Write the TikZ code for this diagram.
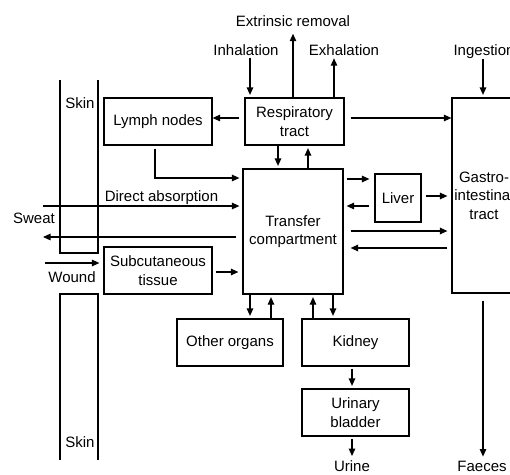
\documentclass[tikz,border=0pt]{standalone}
\usepackage{fontspec}
\setmainfont{Liberation Sans}
\usetikzlibrary{arrows.meta}
\begin{document}
\begin{tikzpicture}[x=1pt,y=-1pt,line width=1.2pt,
        box/.style={draw,align=center,inner sep=0pt,font=\fontsize{15}{18.5}\selectfont},
        lbl/.style={inner sep=0pt,anchor=base,font=\fontsize{15}{18.5}\selectfont},
        arr/.style={-{Triangle[length=7.5pt,width=6.5pt]},shorten >=2.5pt}]
        \useasboundingbox (0,0) rectangle (510,474);
        \clip (0,0) rectangle (510,474);

        \node[box,minimum width=108,minimum height=47] (lymph) at (158,121.5) {Lymph nodes};
        \node[box,minimum width=99,minimum height=47] (resp) at (294.5,121.5) {Respiratory\\tract};
        \node[box,minimum width=64,minimum height=195] (gi) at (484,195.5) {Gastro-\\intestinal\\tract};
        \node[box,minimum width=100,minimum height=125] (tc) at (293,231.5) {Transfer\\compartment};
        \node[box,minimum width=46,minimum height=48] (liver) at (398,198) {Liver};
        \node[box,minimum width=108,minimum height=47] (sub) at (158,270.5) {Subcutaneous\\tissue};
        \node[box,minimum width=106,minimum height=47] (other) at (230,342.5) {Other organs};
        \node[box,minimum width=107,minimum height=47] (kidney) at (355.5,342.5) {Kidney};
        \node[box,minimum width=107,minimum height=47] (bladder) at (355.5,412.5) {Urinary\\bladder};

        \node[lbl] (extr) at (293,26) {Extrinsic removal};
        \node[lbl] (inh) at (246,55) {Inhalation};
        \node[lbl] (exh) at (344,55) {Exhalation};
        \node[lbl] (ing) at (484,55) {Ingestion};
        \node[lbl] (skina) at (80,108) {Skin};
        \node[lbl] (skinb) at (80,447) {Skin};
        \node[lbl] (dir) at (161.5,201) {Direct absorption};
        \node[lbl] (sweat) at (34,223) {Sweat};
        \node[lbl] (wound) at (72,282) {Wound};
        \node[lbl] (urine) at (352,471.5) {Urine};
        \node[lbl] (faeces) at (482,471.5) {Faeces};

        % skin
        \draw (60,80) -- (60,253) -- (98,253) -- (98,80);
        \draw (60,460) -- (60,294) -- (98,294) -- (98,460);

        \coordinate (xinh) at (250,0);
        \coordinate (xexh) at (334,0);
        \coordinate (xing) at (483,0);
        \coordinate (xrd) at (278,0);
        \coordinate (xru) at (308,0);
        \coordinate (xln) at (155,0);
        \coordinate (xo1) at (250,0);
        \coordinate (xo2) at (271,0);
        \coordinate (xk1) at (313,0);
        \coordinate (xk2) at (333,0);
        \coordinate (ylm) at (0,178);
        \coordinate (yl1) at (0,179);
        \coordinate (yl2) at (0,206);
        \coordinate (yt1) at (0,231);
        \coordinate (yt2) at (0,248);
        \coordinate (da) at (43,206);
        \coordinate (sw) at (43,237);
        \coordinate (wd) at (45,263);

        \draw[arr,shorten <=2pt] (xinh |- inh.south) -- (xinh |- resp.north);
        \draw[arr,shorten >=7pt] (resp.north -| extr) -- (extr.south);
        \draw[arr] (xexh |- resp.north) -- (xexh |- exh.south);
        \draw[arr] (xing |- ing.south) -- (xing |- gi.north);
        \draw[arr,shorten <=5pt,shorten >=0pt] ([yshift=3.5pt]resp.west) -- ([yshift=3.5pt]lymph.east);
        \draw[arr,shorten <=6pt,shorten >=0pt] ([yshift=3.5pt]resp.east) -- ([yshift=3.5pt]resp.east -| gi.west);
        \draw[arr] (xrd |- resp.south) -- (xrd |- tc.north);
        \draw[arr] (xru |- tc.north) -- (xru |- resp.south);
        \draw[arr,shorten <=3pt,shorten >=3pt] (xln |- lymph.south) |- (tc.west |- ylm);
        \draw[arr,shorten >=3pt] (da) -- (da -| tc.west);
        \draw[arr,shorten <=6pt,shorten >=0pt] (sw -| tc.west) -- (sw);
        \draw[arr,shorten >=4pt] (wd) -- (wd -| sub.west);
        \draw[arr,shorten <=3pt,shorten >=4pt] ([yshift=-1.5pt]sub.east) -- ([yshift=-1.5pt]sub.east -| tc.west);
        \draw[arr,shorten <=3pt,shorten >=5pt] (tc.east |- yl1) -- (liver.west |- yl1);
        \draw[arr,shorten <=5pt,shorten >=3pt] (liver.west |- yl2) -- (tc.east |- yl2);
        \draw[arr,shorten <=4pt,shorten >=4pt] ([yshift=2pt]liver.east) -- ([yshift=2pt]liver.east -| gi.west);
        \draw[arr,shorten <=7pt,shorten >=4pt] (tc.east |- yt1) -- (gi.west |- yt1);
        \draw[arr,shorten <=4pt,shorten >=7pt] (gi.west |- yt2) -- (tc.east |- yt2);
        \draw[arr] (xo1 |- tc.south) -- (xo1 |- other.north);
        \draw[arr] (xo2 |- other.north) -- (xo2 |- tc.south);
        \draw[arr] (xk1 |- kidney.north) -- (xk1 |- tc.south);
        \draw[arr] (xk2 |- tc.south) -- (xk2 |- kidney.north);
        \draw[arr,shorten <=2pt] (kidney.south -| urine) -- (bladder.north -| urine);
        \draw[arr,shorten <=2pt,shorten >=4pt] (bladder.south -| urine) -- (urine.north);
        \draw[arr,shorten <=7pt,shorten >=4pt] (gi.south -| xing) -- (xing |- faeces.north);
\end{tikzpicture}
\end{document}
